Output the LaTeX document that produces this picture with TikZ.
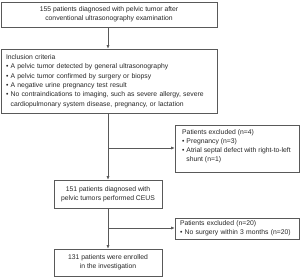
\documentclass[tikz,border=0pt]{standalone}
\usepackage{fontspec}
\setmainfont{Liberation Sans}
\usetikzlibrary{arrows.meta}
\begin{document}
\begin{tikzpicture}[x=1pt,y=-1pt,
  box/.style={draw=black!65,line width=0.6pt,rectangle,inner xsep=0pt,inner ysep=0pt,
    font=\fontsize{6.8}{9.4}\selectfont,text=black!85},
  txt/.style={inner sep=0pt,font=\fontsize{6.8}{8.9}\selectfont,text=black!85,align=left},
  conn/.style={draw=black!65,line width=0.6pt,-{Latex[length=3.5pt,width=3pt]}}]
\useasboundingbox (0,0) rectangle (300,277);
\node[box,minimum width=216pt,minimum height=25pt,align=center] (b1) at (109,14.5)
  {155 patients diagnosed with pelvic tumor after\\conventional ultrasonography examination};
\node[box,minimum width=216pt,minimum height=64pt,text width=206pt,align=left] (b2) at (109,81)
  {Inclusion criteria\\
  \textbullet{} A pelvic tumor detected by general ultrasonography\\
  \textbullet{} A pelvic tumor confirmed by surgery or biopsy\\
  \textbullet{} A negative urine pregnancy test result\\
  \textbullet{} No contraindications to imaging, such as severe allergy, severe\\
  \hphantom{\textbullet{} }cardiopulmonary system disease, pregnancy, or lactation};
\node[box,minimum width=124pt,minimum height=47pt] (b3) at (237,148.5) {};
\node[txt,anchor=north west] (b3t) at (182,129.5)
  {Patients excluded (n=4)\\
  \textbullet{} Pregnancy (n=3)\\
  \textbullet{} Atrial septal defect with right-to-left\\
  \hphantom{\textbullet{} }shunt (n=1)};
\node[box,minimum width=108pt,minimum height=28pt,align=center] (b4) at (108,194)
  {151 patients diagnosed with\\pelvic tumors performed CEUS};
\node[box,minimum width=124pt,minimum height=21pt,text width=114pt,align=left] (b6) at (237,228.5)
  {Patients excluded (n=20)\\
  \textbullet{} No surgery within 3 months (n=20)};
\node[box,minimum width=108pt,minimum height=27pt,align=center] (b5) at (108,262.5)
  {131 patients were enrolled\\in the investigation};
\coordinate (j1) at (108,148);
\coordinate (j2) at (108,228);
\draw[conn] (b1.south -| j1) -- (b2.north -| j1);
\draw[conn] (b2.south -| j1) -- (b4.north);
\draw[conn] (j1) -- (j1 -| b3.west);
\draw[conn] (b4.south) -- (b5.north);
\draw[conn] (j2) -- (j2 -| b6.west);
\end{tikzpicture}
\end{document}
